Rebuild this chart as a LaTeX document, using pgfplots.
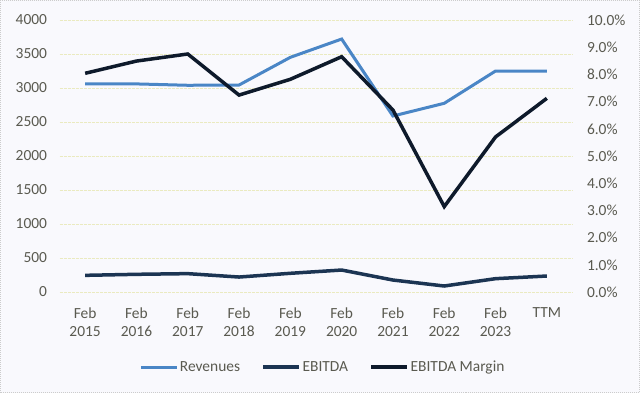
\documentclass[border=0pt]{standalone}
\usepackage{pgfplots}
\pgfplotsset{compat=1.18}
\usepackage{fontspec}
\setmainfont{Carlito}
\definecolor{rev}{HTML}{4A86C6}
\definecolor{ebitda}{HTML}{1C3553}
\definecolor{marg}{HTML}{0E1A2B}
\definecolor{gridc}{HTML}{EAEAC0}
\definecolor{txt}{HTML}{5A5A50}
\definecolor{bg}{HTML}{F9F9FD}
\begin{document}
\begin{tikzpicture}
\fill[bg] (0,0) rectangle (640bp,393bp);
\draw[black!20, densely dotted, line width=1bp] (0.5bp,0.5bp) rectangle (639.5bp,392.5bp);
\pgfplotsset{
  every axis/.append style={
    scale only axis, width=513bp, height=272bp,
    at={(59.5bp,101bp)}, anchor=south west,
    xmin=-0.5, xmax=9.5,
    axis line style={draw=none},
    tick style={draw=none},
    tick label style={font=\fontsize{15.5}{18.5}\selectfont, text=txt},
    /pgf/number format/assume math mode=true,
  }
}
\begin{axis}[
  ymin=0, ymax=4000,
  ytick={0,500,...,4000},
  yticklabel style={/pgf/number format/1000 sep={}},
  ymajorgrids, major grid style={draw=gridc, line width=0.9bp, dash pattern=on 3bp off 1bp},
  yticklabel style={xshift=-9bp},
  xtick={0,...,9},
  xticklabels={{Feb\\2015},{Feb\\2016},{Feb\\2017},{Feb\\2018},{Feb\\2019},{Feb\\2020},{Feb\\2021},{Feb\\2022},{Feb\\2023},{TTM}},
  xticklabel style={align=center, yshift=-12bp},
  legend columns=3,
  legend style={at={(0.513,-0.276)}, anchor=center, draw=none, fill=none,
    font=\fontsize{15.5}{18}\selectfont, text=txt,
    nodes={inner xsep=1.5bp},
    /tikz/every even column/.append style={column sep=20bp},
    inner sep=0pt},
  legend image code/.code={\draw[#1] (0bp,0bp) -- (36bp,0bp);},
  legend cell align=left,
]
\addplot[rev, line width=3bp] coordinates {
(0,3059) (1,3060) (2,3040) (3,3044) (4,3451) (5,3720) (6,2588) (7,2775) (8,3250) (9,3250)};
\addlegendentry{Revenues}
\addplot[ebitda, line width=3.5bp] coordinates {
(0,245) (1,260) (2,270) (3,220) (4,275) (5,323) (6,176) (7,88) (8,196) (9,235)};
\addlegendentry{EBITDA}
\addlegendimage{marg, line width=3.5bp}
\addlegendentry{EBITDA Margin}
\end{axis}
\begin{axis}[
  ymin=0, ymax=10,
  ytick={0,1,...,10},
  axis y line*=right,
  xtick=\empty,
  yticklabel={\pgfmathprintnumber[fixed,fixed zerofill,precision=1]{\tick}\%},
  yticklabel style={xshift=11bp},
]
\addplot[marg, line width=3.5bp] coordinates {
(0,8.04) (1,8.49) (2,8.75) (3,7.24) (4,7.82) (5,8.65) (6,6.69) (7,3.14) (8,5.70) (9,7.12)};
\end{axis}
\end{tikzpicture}
\end{document}
